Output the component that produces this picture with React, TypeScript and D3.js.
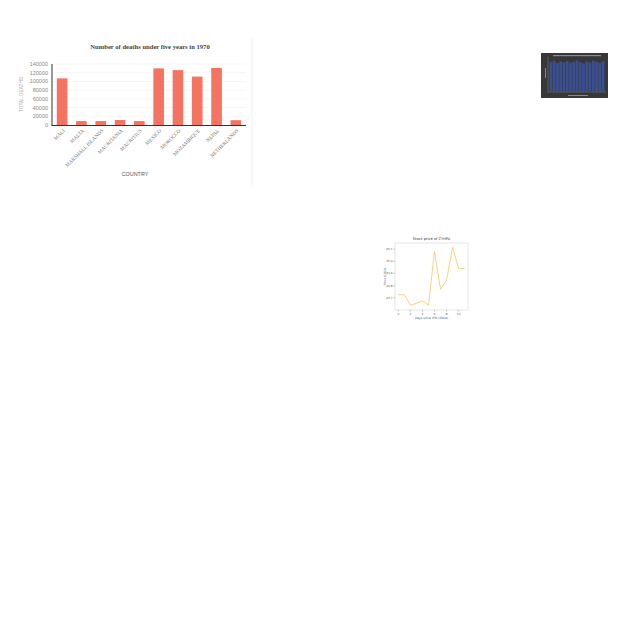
import React from 'react';
import * as d3 from 'd3';

// main bar chart
const countries = ['MALI', 'MALTA', 'MARSHALL ISLANDS', 'MAURITANIA', 'MAURITIUS', 'MEXICO', 'MOROCCO', 'MOZAMBIQUE', 'NEPAL', 'NETHERLANDS'];
const deaths = [107000, 9000, 9000, 11500, 9000, 130000, 126000, 111000, 131000, 11000];
const yTicks = [0, 20000, 40000, 60000, 80000, 100000, 120000, 140000];

// dark thumbnail chart
const thumbValues = [88, 92, 85, 90, 87, 91, 86, 89, 93, 88, 84, 90, 87, 92, 89, 86, 90];

// stock price chart
const days = [0, 1, 2, 3, 4, 5, 6, 7, 8, 9, 10, 11];
const prices = [24.725, 24.725, 24.64, 24.655, 24.675, 24.64, 25.08, 24.77, 24.845, 25.115, 24.94, 24.94];
const priceTicks = [24.7, 24.8, 24.9, 25.0, 25.1];
const dayTicks = [0, 2, 4, 6, 8, 10];

const BarChart = () => {
  const x = d3.scaleBand<string>().domain(countries).range([52, 246]).paddingInner(0.45).paddingOuter(0.25);
  const y = d3.scaleLinear().domain([0, 140000]).range([125, 64]);
  return (
    <g>
      <line x1={252} x2={252} y1={38} y2={185} stroke="#eeeeee" />
      <text x={150} y={49} textAnchor="middle" fontFamily="Liberation Serif" fontWeight="bold" fontSize={6.6} fill="#444">
        Number of deaths under five years in 1970
      </text>
      {yTicks.map(t => (
        <g key={t}>
          <line x1={52} x2={246} y1={y(t)} y2={y(t)} stroke="#f0f0f0" strokeWidth={0.7} />
          <text x={48} y={y(t) + 2} textAnchor="end" fontFamily="Liberation Sans" fontSize={5.5} fill="#888">{t}</text>
        </g>
      ))}
      <text transform={`translate(23,${y(70000)}) rotate(-90)`} textAnchor="middle" fontFamily="Liberation Sans" fontSize={4.8} fill="#aaa">
        TOTAL DEATHS
      </text>
      {countries.map((c, i) => (
        <rect key={c} x={x(c)} y={y(deaths[i])} width={x.bandwidth()} height={y(0) - y(deaths[i])} fill="#f47461" />
      ))}
      <line x1={52} x2={52} y1={64} y2={125.5} stroke="#333" strokeWidth={1} />
      <line x1={51.5} x2={246} y1={125.5} y2={125.5} stroke="#333" strokeWidth={1} />
      {countries.map(c => {
        const cx = (x(c) ?? 0) + x.bandwidth() / 2;
        return (
          <text key={c} transform={`translate(${cx + 3},${131}) rotate(-45)`} textAnchor="end" fontFamily="Liberation Serif" fontSize={5.2} fill="#777">
            {c}
          </text>
        );
      })}
      <text x={135} y={176} textAnchor="middle" fontFamily="Liberation Sans" fontSize={5.4} fill="#555">COUNTRY</text>
    </g>
  );
};

const ThumbChart = () => {
  const x = d3.scaleBand<number>().domain(d3.range(thumbValues.length)).range([549, 605]).padding(0.15);
  const y = d3.scaleLinear().domain([0, 100]).range([92, 58]);
  return (
    <g>
      <rect x={541} y={53} width={67} height={45} fill="#383838" />
      <rect x={553} y={55} width={48} height={1.2} fill="#8a8a8a" />
      <line x1={548} x2={548} y1={57} y2={92} stroke="#999" strokeWidth={0.4} />
      <line x1={548} x2={606} y1={92} y2={92} stroke="#999" strokeWidth={0.4} />
      <rect x={545} y={68} width={1} height={10} fill="#888" />
      {thumbValues.map((v, i) => (
        <rect key={i} x={x(i)} y={y(v)} width={x.bandwidth()} height={y(0) - y(v)} fill="#3a4f8f" />
      ))}
      <rect x={568} y={95} width={20} height={1} fill="#888" />
    </g>
  );
};

const LineChart = () => {
  const x = d3.scaleLinear().domain([-0.55, 11.55]).range([395, 468]);
  const y = d3.scaleLinear().domain([24.6, 25.15]).range([310, 243]);
  const line = d3.line<number>().x((_, i) => x(days[i])).y(d => y(d));
  return (
    <g fontFamily="DejaVu Sans">
      <rect x={395} y={243} width={73} height={67} fill="none" stroke="#ccc" strokeWidth={0.5} />
      <text x={431.5} y={240} textAnchor="middle" fontSize={3.6} fill="#333">Stock price of CYHPA</text>
      {priceTicks.map(t => (
        <g key={t}>
          <line x1={393.5} x2={395} y1={y(t)} y2={y(t)} stroke="#666" strokeWidth={0.4} />
          <text x={392.5} y={y(t) + 1} textAnchor="end" fontSize={2.8} fill="#555">{t.toFixed(1)}</text>
        </g>
      ))}
      {dayTicks.map(t => (
        <g key={t}>
          <line x1={x(t)} x2={x(t)} y1={310} y2={311.5} stroke="#666" strokeWidth={0.4} />
          <text x={x(t)} y={314.5} textAnchor="middle" fontSize={2.8} fill="#555">{t}</text>
        </g>
      ))}
      <text transform={`translate(386,${y(24.875)}) rotate(-90)`} textAnchor="middle" fontSize={3} fill="#555">Price (USD)</text>
      <text x={431.5} y={318.5} textAnchor="middle" fontSize={3} fill="#555">Days since IPO (2018)</text>
      <path d={line(prices) ?? ''} fill="none" stroke="#f5c565" strokeWidth={0.8} />
    </g>
  );
};

export default function App() {
  return (
    <svg width={640} height={640} style={{ position: 'absolute', left: 0, top: 0, background: '#fff' }}>
      <BarChart />
      <ThumbChart />
      <LineChart />
    </svg>
  );
}
